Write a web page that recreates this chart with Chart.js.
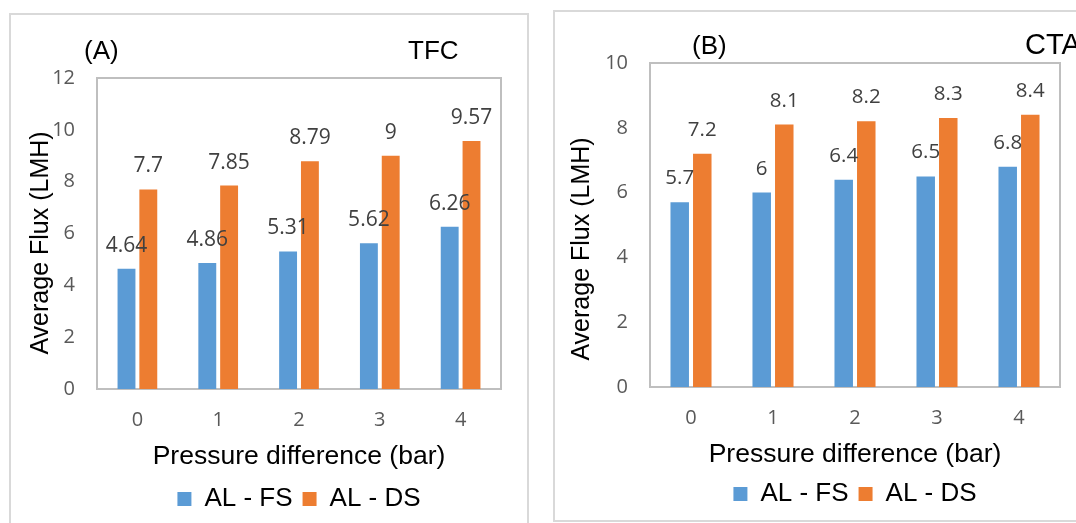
<!DOCTYPE html>
<html>
<head>
<meta charset="utf-8">
<script src="https://cdn.jsdelivr.net/npm/chart.js@4"></script>
<style>
  body { margin: 0; background: #fff; width: 1076px; height: 523px; overflow: hidden; position: relative; }
  .panel { position: absolute; border: 2px solid #d9d9d9; box-sizing: border-box; }
  canvas { position: absolute; top: 0; }
</style>
</head>
<body>
<div class="panel" style="left:9px;top:13px;width:520px;height:540px"></div>
<div class="panel" style="left:553px;top:10px;width:560px;height:512px"></div>
<canvas id="chartA" width="540" height="523" style="left:0"></canvas>
<canvas id="chartB" width="536" height="523" style="left:540px"></canvas>
<script>
// pressure difference categories (bar)
const pressure = ["0", "1", "2", "3", "4"];
const seriesNames = ["AL - FS", "AL - DS"];

// (A) TFC membrane, average flux (LMH)
const tfcFS = [4.64, 4.86, 5.31, 5.62, 6.26];
const tfcDS = [7.7, 7.85, 8.79, 9, 9.57];

// (B) CTA membrane, average flux (LMH)
const ctaFS = [5.7, 6, 6.4, 6.5, 6.8];
const ctaDS = [7.2, 8.1, 8.2, 8.3, 8.4];

const blue = "#5b9bd5";
const orange = "#ed7d31";

Chart.defaults.font.family = "'Open Sans', sans-serif";

// grey box round the plot area
const plotFrame = {
    id: "plotFrame",
    beforeDatasetsDraw(chart) {
        const { ctx, chartArea: a } = chart;
        ctx.save();
        ctx.strokeStyle = "#bfbfbf";
        ctx.lineWidth = 2;
        ctx.strokeRect(a.left, a.top, a.width, a.height);
        ctx.restore();
    }
};

// value above each bar
const valueLabels = {
    id: "valueLabels",
    afterDatasetsDraw(chart, args, opts) {
        const ctx = chart.ctx;
        ctx.save();
        ctx.font = opts.size + "px 'Open Sans', sans-serif";
        ctx.fillStyle = "#404040";
        ctx.textAlign = "center";
        ctx.textBaseline = "alphabetic";
        chart.data.datasets.forEach((ds, i) => {
            chart.getDatasetMeta(i).data.forEach((bar, j) => {
                ctx.fillText(String(ds.data[j]), bar.x, bar.y - opts.gap);
            });
        });
        ctx.restore();
    }
};

// panel captions and the rotated y title
const panelText = {
    id: "panelText",
    afterDraw(chart, args, opts) {
        const ctx = chart.ctx;
        ctx.save();
        ctx.fillStyle = "#000";
        ctx.textBaseline = "alphabetic";
        ctx.textAlign = "left";
        ctx.font = opts.tagSize + "px 'Liberation Sans', Arial, sans-serif";
        ctx.fillText(opts.tag, opts.tagX, opts.captionY);
        ctx.font = opts.nameSize + "px 'Liberation Sans', Arial, sans-serif";
        ctx.fillText(opts.name, opts.nameX, opts.captionY);

        ctx.translate(opts.yTitleX, opts.yTitleY);
        ctx.rotate(-Math.PI / 2);
        ctx.font = "25px 'Liberation Sans', Arial, sans-serif";
        ctx.textAlign = "center";
        ctx.textBaseline = "middle";
        ctx.fillText("Average Flux (LMH)", 0, 0);
        ctx.restore();
    }
};

function makeChart(id, fs, ds, p) {
    return new Chart(document.getElementById(id), {
        type: "bar",
        data: {
            labels: pressure,
            datasets: [
                { label: seriesNames[0], data: fs, backgroundColor: blue,
                  categoryPercentage: p.catPct, barPercentage: 0.82 },
                { label: seriesNames[1], data: ds, backgroundColor: orange,
                  categoryPercentage: p.catPct, barPercentage: 0.82 }
            ]
        },
        options: {
            responsive: false,
            animation: false,
            devicePixelRatio: 1,
            layout: { padding: { left: 0, top: p.top, right: p.right, bottom: p.bottom } },
            scales: {
                x: {
                    grid: { display: false, drawTicks: false },
                    border: { display: false },
                    ticks: { font: { size: 20 }, color: "#595959", padding: 19 },
                    title: {
                        display: true,
                        text: "Pressure difference (bar)",
                        color: "#000",
                        font: { family: "'Liberation Sans', Arial, sans-serif", size: 26.5, lineHeight: 1.2 },
                        padding: { top: 0, bottom: p.xTitlePad }
                    },
                    afterFit(s) { s.height = p.xHeight; }
                },
                y: {
                    min: 0,
                    max: p.yMax,
                    grid: { display: false, drawTicks: false },
                    border: { display: false },
                    ticks: { stepSize: 2, font: { size: 20 }, color: "#595959", padding: 22 },
                    afterFit(s) { s.width = p.yWidth; }
                }
            },
            plugins: {
                legend: {
                    position: "bottom",
                    fullSize: false,
                    labels: {
                        boxWidth: 14,
                        boxHeight: 14,
                        padding: 10,
                        color: "#000",
                        font: { family: "'Liberation Sans', Arial, sans-serif", size: 26 }
                    }
                },
                tooltip: { enabled: false },
                valueLabels: { size: p.labelSize, gap: p.labelGap },
                panelText: p.text
            }
        },
        plugins: [plotFrame, valueLabels, panelText]
    });
}

makeChart("chartA", tfcFS, tfcDS, {
    catPct: 0.54, top: 78, right: 39, bottom: 1, xHeight: 87, xTitlePad: 3,
    yWidth: 97, yMax: 12, labelSize: 21, labelGap: 17,
    text: { tag: "(A)", name: "TFC", tagX: 84, nameX: 408, captionY: 59, tagSize: 26, nameSize: 26,
            yTitleX: 41, yTitleY: 243 }
});

makeChart("chartB", ctaFS, ctaDS, {
    catPct: 0.55, top: 63, right: 16, bottom: 6, xHeight: 84, xTitlePad: 0,
    yWidth: 110, yMax: 10, labelSize: 20.5, labelGap: 18,
    text: { tag: "(B)", name: "CTA", tagX: 152, nameX: 485, captionY: 54, tagSize: 26, nameSize: 29,
            yTitleX: 42, yTitleY: 249 }
});
</script>
</body>
</html>
